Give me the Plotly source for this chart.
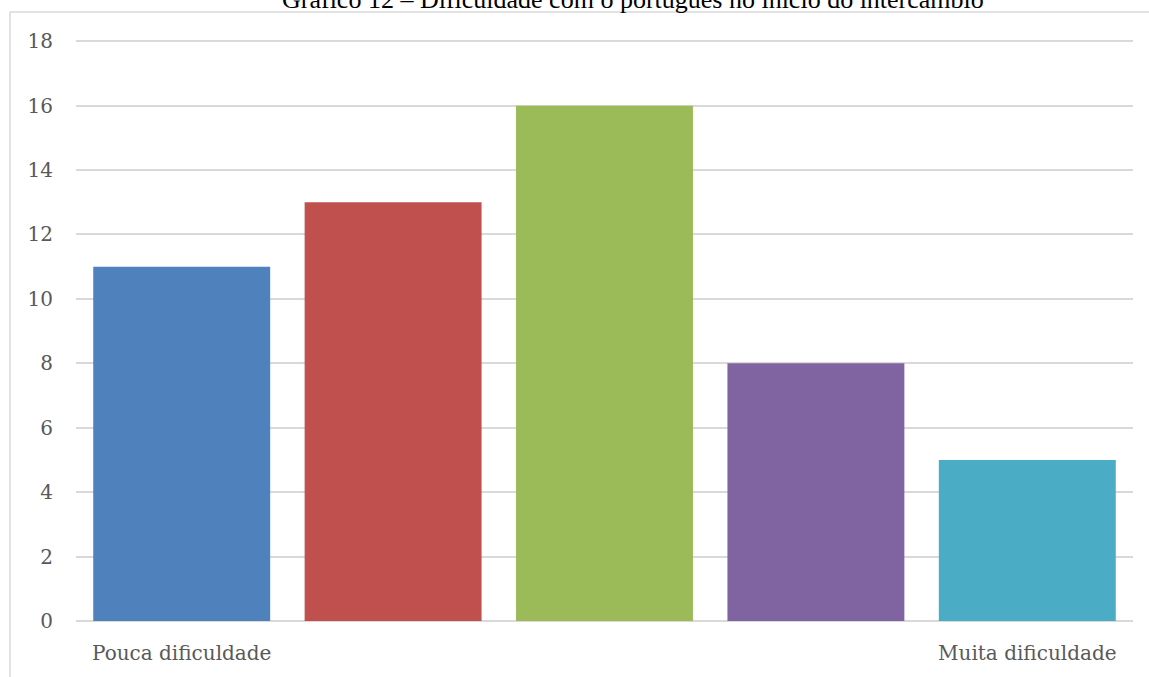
import plotly.graph_objects as go

# Answers per level of difficulty (1 = pouca, 5 = muita)
niveis = [1, 2, 3, 4, 5]
rotulos = ["Pouca dificuldade", "", "", "", "Muita dificuldade"]
respostas = [11, 13, 16, 8, 5]
cores = ["#4f81bd", "#c0504d", "#9bbb59", "#8064a2", "#4bacc6"]
ticks_y = [0, 2, 4, 6, 8, 10, 12, 14, 16, 18]

titulo = "Gráfico 12 – Dificuldade com o português no início do intercâmbio"

W, H = 1149, 677
L, R, T, B = 76, 16, 38, 54
pw, ph = W - L - R, H - T - B

fig = go.Figure(
    go.Bar(
        x=niveis,
        y=respostas,
        marker=dict(color=cores, line=dict(width=0)),
        width=0.837,
        hoverinfo="x+y",
    )
)

grid = "#d9d9d9"
fig.update_layout(
    width=W,
    height=H,
    margin=dict(l=L, r=R, t=T, b=B),
    paper_bgcolor="white",
    plot_bgcolor="white",
    showlegend=False,
    font=dict(family="DejaVu Serif", color="#595959", size=20),
    xaxis=dict(
        tickmode="array",
        tickvals=niveis,
        ticktext=rotulos,
        range=[0.5, 5.5],
        showgrid=False,
        showline=False,
        zeroline=False,
        ticks="",
        ticklabelstandoff=18,
        tickfont=dict(size=20),
    ),
    yaxis=dict(
        range=[0, 18.1],
        tickmode="array",
        tickvals=ticks_y,
        showgrid=True,
        gridcolor=grid,
        gridwidth=1.5,
        zeroline=True,
        zerolinecolor=grid,
        zerolinewidth=1.5,
        showline=False,
        ticks="",
        ticklabelstandoff=22,
        tickfont=dict(size=20),
    ),
)

# Frame lines around the chart (left and top edges)
bx = (10 - L) / pw
by = 1 + (T - 12) / ph
fig.add_shape(type="line", xref="paper", yref="paper",
              x0=bx, x1=bx, y0=-0.2, y1=by,
              line=dict(color=grid, width=1.5))
fig.add_shape(type="line", xref="paper", yref="paper",
              x0=bx, x1=1.1, y0=by, y1=by,
              line=dict(color=grid, width=1.5))

# Title sitting above the frame
fig.add_annotation(
    text=titulo,
    xref="paper", yref="paper",
    x=(633 - L) / pw, y=1 + (T + 1) / ph,
    xanchor="center", yanchor="middle",
    showarrow=False,
    font=dict(family="Liberation Serif", size=26, color="#000000"),
)

fig.write_html("out.html")
